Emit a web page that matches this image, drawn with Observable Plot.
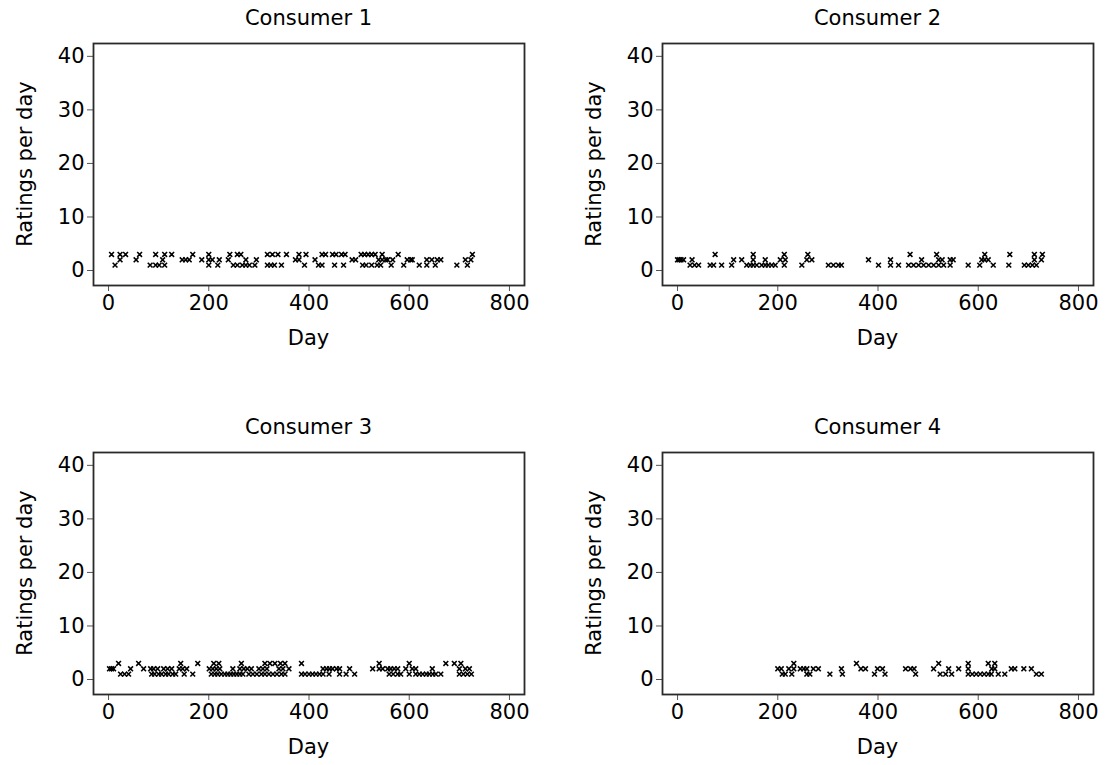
<!DOCTYPE html>
<html><head><meta charset="utf-8">
<script src="https://cdn.jsdelivr.net/npm/d3@7"></script>
<script src="https://cdn.jsdelivr.net/npm/@observablehq/plot@0.6"></script>
<style>
body{margin:0;background:#fff;font-family:"DejaVu Sans",sans-serif}
#wrap{position:relative;width:1109px;height:765px;overflow:hidden;background:#fff}
.panel{position:absolute}
.lbl{position:absolute;white-space:nowrap;font-size:21px;color:#000;transform:translate(-50%,-50%)}
.ylab{transform:translate(-50%,-50%) rotate(-90deg)}
</style></head><body><div id="wrap"></div>
<script>
// ---- data (days on which the consumer gave 1, 2 or 3 ratings) ----
const titles = ["Consumer 1", "Consumer 2", "Consumer 3", "Consumer 4"];
const xTicks = [0, 200, 400, 600, 800];
const yTicks = [0, 10, 20, 30, 40];
const xLabel = "Day";
const yLabel = "Ratings per day";

const c1Ones = [13, 83, 94, 101, 112, 200, 218, 249, 257, 267, 274, 281, 292, 317, 324, 331, 345, 391, 419, 426, 451, 469, 507, 514, 525, 536, 543, 564, 589, 620, 635, 652, 695, 716];
const c1Twos = [23, 55, 108, 147, 154, 161, 186, 200, 207, 221, 239, 274, 295, 373, 380, 412, 486, 493, 539, 546, 553, 557, 567, 596, 603, 606, 635, 645, 656, 663, 712, 723];
const c1Threes = [6, 23, 34, 62, 94, 112, 126, 168, 200, 242, 257, 264, 317, 327, 338, 355, 380, 394, 426, 433, 447, 454, 465, 472, 504, 511, 518, 525, 532, 546, 578, 726];

const c2Ones = [25, 34, 42, 65, 72, 88, 108, 138, 145, 151, 158, 168, 175, 181, 188, 195, 213, 248, 301, 311, 321, 327, 401, 425, 441, 461, 471, 481, 491, 501, 511, 521, 531, 544, 580, 603, 630, 661, 692, 700, 708, 716];
const c2Twos = [0, 3, 7, 12, 29, 112, 128, 151, 175, 205, 215, 258, 268, 381, 425, 487, 521, 528, 544, 550, 607, 613, 620, 712, 726];
const c2Threes = [75, 151, 213, 260, 464, 517, 613, 663, 712, 728];

const c3Ones = [24, 32, 40, 86, 92, 100, 106, 114, 120, 128, 134, 151, 168, 205, 212, 218, 225, 232, 238, 244, 250, 256, 262, 268, 280, 288, 296, 305, 312, 320, 328, 336, 345, 352, 385, 392, 400, 407, 414, 421, 428, 440, 461, 474, 491, 560, 568, 577, 583, 600, 613, 620, 627, 634, 640, 647, 653, 663, 700, 708, 716, 724];
const c3Twos = [2, 6, 10, 44, 70, 84, 90, 98, 110, 118, 126, 141, 148, 156, 201, 208, 215, 222, 248, 262, 270, 277, 285, 300, 308, 316, 340, 348, 360, 428, 435, 441, 447, 455, 461, 481, 527, 540, 547, 557, 563, 570, 577, 593, 606, 613, 646, 700, 712, 720];
const c3Threes = [20, 60, 144, 178, 210, 220, 265, 312, 322, 332, 343, 352, 385, 540, 600, 673, 690, 703];

const c4Ones = [209, 215, 228, 258, 264, 304, 329, 393, 414, 475, 524, 535, 547, 580, 588, 596, 604, 612, 620, 626, 640, 653, 716, 726];
const c4Twos = [200, 207, 222, 232, 245, 252, 258, 271, 281, 327, 366, 375, 399, 409, 455, 465, 472, 511, 541, 561, 580, 627, 633, 666, 673, 691, 706];
const c4Threes = [232, 357, 521, 580, 620, 633];

const series = [
  [c1Ones, c1Twos, c1Threes],
  [c2Ones, c2Twos, c2Threes],
  [c3Ones, c3Twos, c3Threes],
  [c4Ones, c4Twos, c4Threes]
];

// ---- layout ----
const W = 555, H = 356;
const mL = 93, mR = 31, mT = 43, mB = 71;
const offsets = [[0, 0], [569, 0], [0, 409], [569, 409]];
const wrap = document.getElementById("wrap");

series.forEach((lists, i) => {
  const pts = [];
  lists.forEach((days, k) => days.forEach(d => pts.push({day: d, n: k + 1})));
  const [ox, oy] = offsets[i];
  const chart = Plot.plot({
    width: W, height: H,
    marginLeft: mL, marginRight: mR, marginTop: mT, marginBottom: mB,
    style: {fontFamily: "DejaVu Sans, sans-serif", fontSize: "21px", color: "#000", background: "transparent", overflow: "visible"},
    x: {domain: [-30, 830], ticks: xTicks},
    y: {domain: [-2.8, 42.4], ticks: yTicks},
    marks: [
      Plot.axisX({ticks: xTicks, tickSize: 6, tickPadding: 4, label: null, stroke: "#555", fill: "#000", fontSize: 21}),
      Plot.axisY({ticks: yTicks, tickSize: 6, tickPadding: 3, label: null, stroke: "#555", fill: "#000", fontSize: 21}),
      Plot.frame({stroke: "#2a2a2a", strokeWidth: 1.8}),
      Plot.dot(pts, {x: "day", y: "n", symbol: "times", r: 2.3, stroke: "#000", strokeWidth: 1.6})
    ]
  });
  chart.classList.add("panel");
  chart.style.left = ox + "px";
  chart.style.top = oy + "px";
  wrap.appendChild(chart);

  const cx = ox + (mL + (W - mR)) / 2;
  const t = document.createElement("div");
  t.className = "lbl"; t.textContent = titles[i];
  t.style.left = cx + "px"; t.style.top = (oy + 18) + "px";
  wrap.appendChild(t);

  const xl = document.createElement("div");
  xl.className = "lbl"; xl.textContent = xLabel;
  xl.style.left = cx + "px"; xl.style.top = (oy + 338) + "px";
  wrap.appendChild(xl);

  const yl = document.createElement("div");
  yl.className = "lbl ylab"; yl.textContent = yLabel;
  yl.style.left = (ox + 25) + "px"; yl.style.top = (oy + (mT + (H - mB)) / 2) + "px";
  wrap.appendChild(yl);
});
</script></body></html>
